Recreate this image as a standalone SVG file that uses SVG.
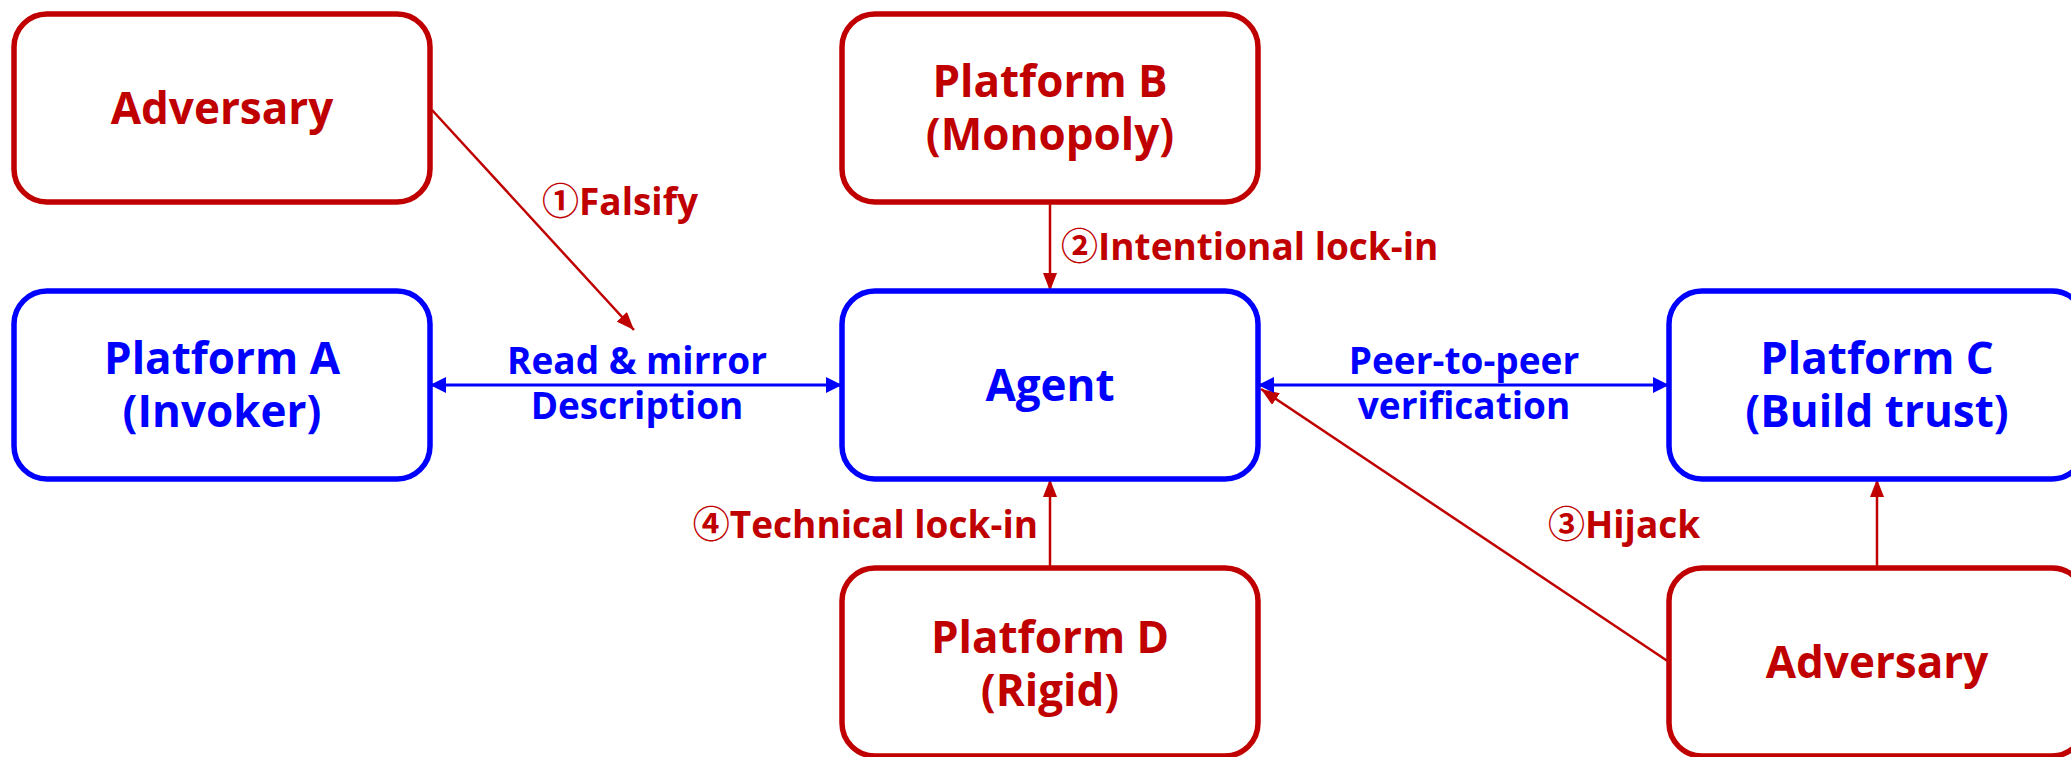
<svg xmlns="http://www.w3.org/2000/svg" width="2071" height="757" viewBox="0 0 2071 757">
<style>
.box{fill:#fff;stroke-width:5.5}
.r{stroke:#C00000}
.b{stroke:#0000FF}
text{font-family:"Open Sans","Noto Sans CJK SC",sans-serif;font-weight:700}
.nt{font-size:44px;text-anchor:middle}
.lt{font-size:37px}
.tr{fill:#C00000}
.tb{fill:#0000FF}
.cr{stroke:#C00000;stroke-width:2.5;fill:none}
.cb{stroke:#0000FF;stroke-width:3;fill:none}
</style>
<defs>
<marker id="ar" markerUnits="userSpaceOnUse" markerWidth="18" markerHeight="14" refX="18" refY="7" orient="auto">
<path d="M0,0 L18,7 L0,14 z" fill="#C00000"/>
</marker>
<marker id="ab" markerUnits="userSpaceOnUse" markerWidth="16" markerHeight="16" refX="16" refY="8" orient="auto-start-reverse">
<path d="M0,0 L16,8 L0,16 z" fill="#0000FF"/>
</marker>
</defs>
<g id="connectors">
<line class="cr" x1="432" y1="110" x2="634" y2="330" marker-end="url(#ar)"/>
<line class="cr" x1="1050" y1="202" x2="1050" y2="291" marker-end="url(#ar)"/>
<line class="cr" x1="1050" y1="568" x2="1050" y2="479" marker-end="url(#ar)"/>
<line class="cr" x1="1877" y1="568" x2="1877" y2="479" marker-end="url(#ar)"/>
<line class="cr" x1="1669" y1="662" x2="1261" y2="389" marker-end="url(#ar)"/>
<line class="cb" x1="430" y1="385" x2="842" y2="385" marker-start="url(#ab)" marker-end="url(#ab)"/>
<line class="cb" x1="1258" y1="385" x2="1669" y2="385" marker-start="url(#ab)" marker-end="url(#ab)"/>
<text class="lt tr" x="542" y="215">①Falsify</text>
<text class="lt tr" x="1061" y="260">②Intentional lock-in</text>
<text class="lt tr" x="1548" y="538">③Hijack</text>
<text class="lt tr" x="1038" y="538" text-anchor="end">④Technical lock-in</text>
<text class="lt tb" x="637" y="374" text-anchor="middle">Read &amp; mirror</text>
<text class="lt tb" x="637" y="419" text-anchor="middle">Description</text>
<text class="lt tb" x="1464" y="374" text-anchor="middle">Peer-to-peer</text>
<text class="lt tb" x="1464" y="419" text-anchor="middle">verification</text>
</g>
<g id="adversary1">
<rect class="box r" x="14" y="14" width="416" height="188" rx="33"/>
<text class="nt tr" x="222" y="124">Adversary</text>
</g>
<g id="platformB">
<rect class="box r" x="842" y="14" width="416" height="188" rx="33"/>
<text class="nt tr" x="1050" y="97">Platform B</text>
<text class="nt tr" x="1050" y="150">(Monopoly)</text>
</g>
<g id="platformA">
<rect class="box b" x="14" y="291" width="416" height="188" rx="33"/>
<text class="nt tb" x="222" y="374">Platform A</text>
<text class="nt tb" x="222" y="427">(Invoker)</text>
</g>
<g id="agent">
<rect class="box b" x="842" y="291" width="416" height="188" rx="33"/>
<text class="nt tb" x="1050" y="401">Agent</text>
</g>
<g id="platformC">
<rect class="box b" x="1669" y="291" width="416" height="188" rx="33"/>
<text class="nt tb" x="1877" y="374">Platform C</text>
<text class="nt tb" x="1877" y="427">(Build trust)</text>
</g>
<g id="platformD">
<rect class="box r" x="842" y="568" width="416" height="188" rx="33"/>
<text class="nt tr" x="1050" y="653">Platform D</text>
<text class="nt tr" x="1050" y="706">(Rigid)</text>
</g>
<g id="adversary2">
<rect class="box r" x="1669" y="568" width="416" height="188" rx="33"/>
<text class="nt tr" x="1877" y="678">Adversary</text>
</g>
</svg>
